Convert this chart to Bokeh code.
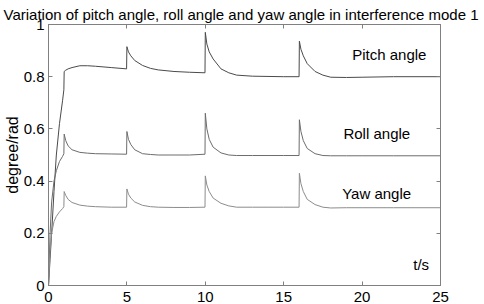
import numpy as np
from bokeh.plotting import figure
from bokeh.models import (Label, LinearAxis, FixedTicker, CustomJSTickFormatter,
                          ColumnDataSource, Range1d)
from bokeh.embed import file_html
from bokeh.resources import INLINE

# ---- data ----
t = [0, 0.1, 0.2, 0.35, 0.5, 0.7, 0.9, 0.98, 1.0, 1.1, 1.25, 1.5, 2.0, 2.5, 3, 4,
     4.98, 5.0, 5.1, 5.25, 5.5, 6.0, 6.5, 7, 8, 9,
     9.98, 10.0, 10.1, 10.25, 10.5, 11, 11.5, 12, 13, 14, 15,
     15.98, 16.0, 16.1, 16.25, 16.5, 17, 17.5, 18, 19, 20, 22, 25]

pitch = [0, 0.10, 0.20, 0.36, 0.50, 0.62, 0.71, 0.75, 0.82, 0.825, 0.83, 0.835, 0.842, 0.842, 0.840, 0.835,
         0.830, 0.915, 0.895, 0.880, 0.862, 0.843, 0.832, 0.826, 0.820, 0.817,
         0.815, 0.970, 0.925, 0.895, 0.868, 0.830, 0.815, 0.806, 0.802, 0.801, 0.800,
         0.800, 0.936, 0.905, 0.880, 0.850, 0.820, 0.806, 0.798, 0.797, 0.798, 0.800, 0.800]

roll = [0, 0.20, 0.32, 0.40, 0.44, 0.475, 0.495, 0.505, 0.580, 0.555, 0.535, 0.520, 0.510, 0.507, 0.505, 0.504,
        0.503, 0.590, 0.560, 0.540, 0.520, 0.505, 0.502, 0.500, 0.500, 0.500,
        0.503, 0.660, 0.600, 0.560, 0.530, 0.508, 0.500, 0.498, 0.498, 0.498, 0.498,
        0.498, 0.635, 0.590, 0.555, 0.525, 0.505, 0.498, 0.497, 0.497, 0.497, 0.497, 0.497]

yaw = [0, 0.13, 0.20, 0.245, 0.265, 0.282, 0.295, 0.302, 0.360, 0.345, 0.330, 0.318, 0.308, 0.304, 0.302, 0.300,
       0.300, 0.370, 0.350, 0.335, 0.320, 0.307, 0.302, 0.300, 0.299, 0.299,
       0.300, 0.420, 0.385, 0.360, 0.335, 0.315, 0.305, 0.300, 0.300, 0.300, 0.300,
       0.300, 0.430, 0.390, 0.360, 0.330, 0.310, 0.300, 0.297, 0.298, 0.298, 0.298, 0.298]

x_ticks = [0, 5, 10, 15, 20, 25]
y_ticks = [0, 0.2, 0.4, 0.6, 0.8, 1.0]

title_text = "Variation of pitch angle, roll angle and yaw angle in interference mode 1"
y_label = "degree/rad"
x_label = "t/s"
series_names = ["Pitch angle", "Roll angle", "Yaw angle"]

FONT = "Liberation Sans"
GRAY = "#808080"

p = figure(width=484, height=304, x_range=Range1d(0, 25), y_range=Range1d(0, 1),
           output_backend="svg", toolbar_location=None,
           min_border_left=48, min_border_right=44, min_border_top=24, min_border_bottom=19)
p.xgrid.visible = False
p.ygrid.visible = False
p.outline_line_color = GRAY
p.background_fill_color = "white"
p.border_fill_color = "white"

p.title.text = title_text
p.title.text_font = FONT
p.title.text_font_size = "15px"
p.title.text_font_style = "normal"
p.title.text_color = "black"
p.title.align = "left"
p.title.offset = -45
p.title.standoff = 4

src = ColumnDataSource(dict(t=t, pitch=pitch, roll=roll, yaw=yaw))
p.line("t", "pitch", source=src, line_color="#4a4a4a", line_width=1)
p.line("t", "roll", source=src, line_color="#6c6c6c", line_width=1)
p.line("t", "yaw", source=src, line_color="#8c8c8c", line_width=1)

fmt = CustomJSTickFormatter(code="return String(Math.round(tick*10)/10);")
blank = CustomJSTickFormatter(code="return '';")

def style(ax, ticks, formatter, labels=True):
    ax.ticker = FixedTicker(ticks=ticks)
    ax.formatter = formatter
    ax.axis_line_color = GRAY
    ax.major_tick_line_color = GRAY
    ax.major_tick_in = 4
    ax.major_tick_out = 0
    ax.minor_tick_line_color = None
    ax.major_label_text_font = FONT
    ax.major_label_text_color = "black"
    if labels:
        ax.major_label_text_font_size = "15px"
    else:
        ax.major_label_text_font_size = "0px"
        ax.major_label_standoff = 0

style(p.xaxis[0], x_ticks, fmt)
p.xaxis[0].major_label_standoff = 6
style(p.yaxis[0], y_ticks, fmt)
p.yaxis[0].major_label_standoff = 4
p.yaxis[0].axis_label = y_label
p.yaxis[0].axis_label_text_font = FONT
p.yaxis[0].axis_label_text_font_size = "16px"
p.yaxis[0].axis_label_text_font_style = "normal"
p.yaxis[0].axis_label_text_color = "black"
p.yaxis[0].axis_label_standoff = 0

top = LinearAxis()
style(top, x_ticks, blank, labels=False)
p.add_layout(top, "above")
right = LinearAxis()
style(right, y_ticks, blank, labels=False)
p.add_layout(right, "right")

# in-plot annotations
for name, xx, yy in zip(series_names + [x_label], [19.37, 18.81, 18.73, 23.26], [0.884, 0.582, 0.354, 0.08]):
    p.add_layout(Label(x=xx, y=yy, text=name, text_font=FONT, text_font_size="15px",
                       text_color="black", text_align="left", text_baseline="middle"))

open("out.html", "w").write(file_html(p, INLINE))
